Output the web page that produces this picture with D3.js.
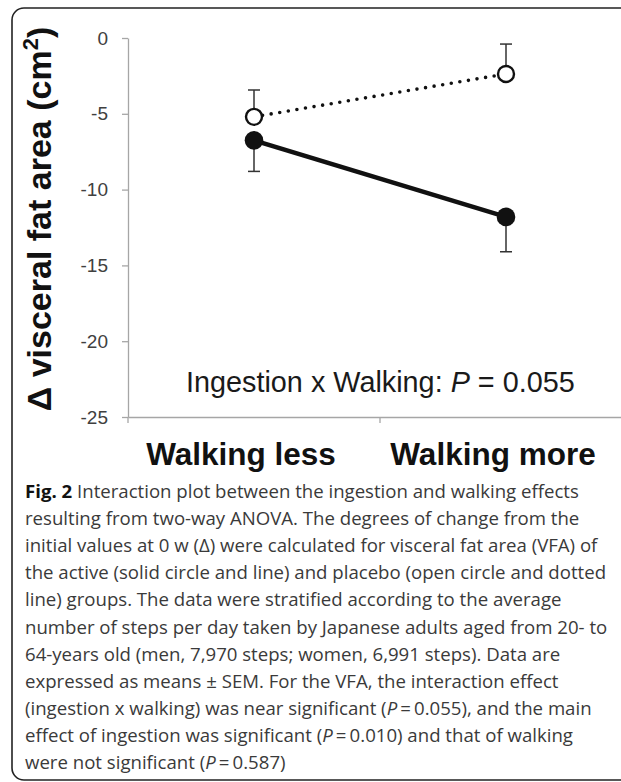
<!DOCTYPE html>
<html>
<head>
<meta charset="utf-8">
<script src="https://cdnjs.cloudflare.com/ajax/libs/d3/7.8.5/d3.min.js"></script>
<style>
    body { margin: 0; background: #fff; }
    svg { display: block; }
    .axis path, .axis line { stroke: #a6a6a6; stroke-width: 1.3; }
    .y-axis text { font-family: "Liberation Sans", Arial, sans-serif; font-size: 19px; fill: #404040; }
</style>
</head>
<body>
<div id="chart"></div>
<script>

// Chart values
let categories = ["Walking less", "Walking more"];

let activeMean = [-6.75, -11.8];
let activeSem = [2.05, 2.3];

let placeboMean = [-5.2, -2.37];
let placeboSem = [1.77, 1.97];

let yTicks = [0, -5, -10, -15, -20, -25];

let captionLines = [
    [{t: "Fig. 2", b: true}, {t: " Interaction plot between the ingestion and walking effects"}],
    [{t: "resulting from two-way ANOVA. The degrees of change from the"}],
    [{t: "initial values at 0 w (\u0394) were calculated for visceral fat area (VFA) of"}],
    [{t: "the active (solid circle and line) and placebo (open circle and dotted"}],
    [{t: "line) groups. The data were stratified according to the average"}],
    [{t: "number of steps per day taken by Japanese adults aged from 20- to"}],
    [{t: "64-years old (men, 7,970 steps; women, 6,991 steps). Data are"}],
    [{t: "expressed as means \u00b1 SEM. For the VFA, the interaction effect"}],
    [{t: "(ingestion x walking) was near significant ("}, {t: "P", i: true}, {t: "\u2009=\u20090.055), and the main"}],
    [{t: "effect of ingestion was significant ("}, {t: "P", i: true}, {t: "\u2009=\u20090.010) and that of walking"}],
    [{t: "were not significant ("}, {t: "P", i: true}, {t: "\u2009=\u20090.587)"}]
];


// ---- SVG ----
let svg = d3.select("#chart").append("svg")
    .attr("width", 621)
    .attr("height", 782);

// rounded figure frame (runs off the right edge)
svg.append("rect")
    .attr("x", 12)
    .attr("y", 8)
    .attr("width", 700)
    .attr("height", 772)
    .attr("rx", 12)
    .attr("fill", "none")
    .attr("stroke", "#222")
    .attr("stroke-width", 1.6);


// ---- SCALES ----
let x = d3.scaleBand()
    .domain(categories)
    .range([128, 632])
    .paddingInner(0);

let y = d3.scaleLinear()
    .domain([-25, 0])
    .range([417, 38]);

let xc = d => x(d) + x.bandwidth() / 2;


// ---- AXES ----
let yAxis = d3.axisLeft(y)
    .tickValues(yTicks)
    .tickFormat(d => String(d))   // plain hyphen, like the original
    .tickSize(6)
    .tickSizeOuter(0)
    .tickPadding(14);

svg.append("g")
    .attr("class", "y-axis axis")
    .attr("transform", "translate(128,0)")
    .call(yAxis);

let xAxis = d3.axisBottom(x)
    .tickSize(0)
    .tickSizeOuter(0)
    .tickFormat("");

let xAxisGroup = svg.append("g")
    .attr("class", "x-axis axis")
    .attr("transform", "translate(0," + y(-25) + ")")
    .call(xAxis);

// ticks sit on the band edges
let edges = [x(categories[0])].concat(categories.map(d => x(d) + x.bandwidth()));
xAxisGroup.selectAll(".edge")
    .data(edges)
    .enter()
    .append("line")
    .attr("class", "edge")
    .attr("x1", d => d)
    .attr("x2", d => d)
    .attr("y1", 0)
    .attr("y2", 6);

xAxisGroup.selectAll(".cat-label")
    .data(categories)
    .enter()
    .append("text")
    .attr("class", "cat-label")
    .attr("x", d => xc(d) - 13)
    .attr("y", 48)
    .attr("text-anchor", "middle")
    .attr("font-family", "Liberation Sans, Arial, sans-serif")
    .attr("font-weight", "bold")
    .attr("font-size", 31.5)
    .attr("fill", "#111")
    .text(d => d);

// y axis title
let yTitle = svg.append("text")
    .attr("transform", "rotate(-90)")
    .attr("x", -219)
    .attr("y", 51)
    .attr("text-anchor", "middle")
    .attr("font-family", "Liberation Sans, Arial, sans-serif")
    .attr("font-weight", "bold")
    .attr("font-size", 34)
    .attr("fill", "#111");
yTitle.append("tspan").text("\u0394 visceral fat area (cm");
yTitle.append("tspan").attr("font-size", 22).attr("dy", -13).text("2");
yTitle.append("tspan").attr("dy", 13).text(")");


// ---- DATA MARKS ----
let active = categories.map((c, i) => ({cat: c, mean: activeMean[i], sem: activeSem[i]}));
let placebo = categories.map((c, i) => ({cat: c, mean: placeboMean[i], sem: placeboSem[i]}));

let line = d3.line()
    .x(d => xc(d.cat))
    .y(d => y(d.mean));

svg.append("path")
    .datum(placebo)
    .attr("d", line)
    .attr("fill", "none")
    .attr("stroke", "#111")
    .attr("stroke-width", 3.6)
    .attr("stroke-linecap", "round")
    .attr("stroke-dasharray", "0 8.7");

svg.append("path")
    .datum(active)
    .attr("d", line)
    .attr("fill", "none")
    .attr("stroke", "#111")
    .attr("stroke-width", 4.5);

// error bars: placebo upward, active downward
function errorBars(data, dir) {
    let g = svg.append("g")
        .attr("stroke", "#333")
        .attr("stroke-width", 1.5);
    g.selectAll(".stem")
        .data(data)
        .enter()
        .append("line")
        .attr("x1", d => xc(d.cat))
        .attr("x2", d => xc(d.cat))
        .attr("y1", d => y(d.mean))
        .attr("y2", d => y(d.mean + dir * d.sem));
    g.selectAll(".cap")
        .data(data)
        .enter()
        .append("line")
        .attr("x1", d => xc(d.cat) - 6)
        .attr("x2", d => xc(d.cat) + 6)
        .attr("y1", d => y(d.mean + dir * d.sem))
        .attr("y2", d => y(d.mean + dir * d.sem));
}
errorBars(placebo, 1);
errorBars(active, -1);

svg.selectAll(".dot-placebo")
    .data(placebo)
    .enter()
    .append("circle")
    .attr("class", "dot-placebo")
    .attr("cx", d => xc(d.cat))
    .attr("cy", d => y(d.mean))
    .attr("r", 8)
    .attr("fill", "#fff")
    .attr("stroke", "#111")
    .attr("stroke-width", 2.4);

svg.selectAll(".dot-active")
    .data(active)
    .enter()
    .append("circle")
    .attr("class", "dot-active")
    .attr("cx", d => xc(d.cat))
    .attr("cy", d => y(d.mean))
    .attr("r", 9.3)
    .attr("fill", "#111");

// interaction annotation
let note = svg.append("text")
    .attr("x", 186)
    .attr("y", 392)
    .attr("font-family", "Liberation Sans, Arial, sans-serif")
    .attr("font-size", 28.8)
    .attr("fill", "#1a1a1a");
note.append("tspan").text("Ingestion x Walking: ");
note.append("tspan").attr("font-style", "italic").text("P");
note.append("tspan").text(" = 0.055");


// ---- CAPTION ----
let caption = svg.append("g")
    .attr("font-family", "Open Sans, sans-serif")
    .attr("font-size", 17)
    .attr("fill", "#3a3a3a");

captionLines.forEach(function(parts, i) {
    let t = caption.append("text")
        .attr("x", 25)
        .attr("y", 498 + i * 27.1);
    parts.forEach(function(p) {
        let s = t.append("tspan").text(p.t);
        if (p.b) s.attr("font-weight", "bold").attr("fill", "#111");
        if (p.i) s.attr("font-style", "italic");
    });
});

// fit first caption line to the figure width
let firstLen = caption.select("text").node().getComputedTextLength();
caption.attr("font-size", 17 * 554 / firstLen);

</script>
</body>
</html>
